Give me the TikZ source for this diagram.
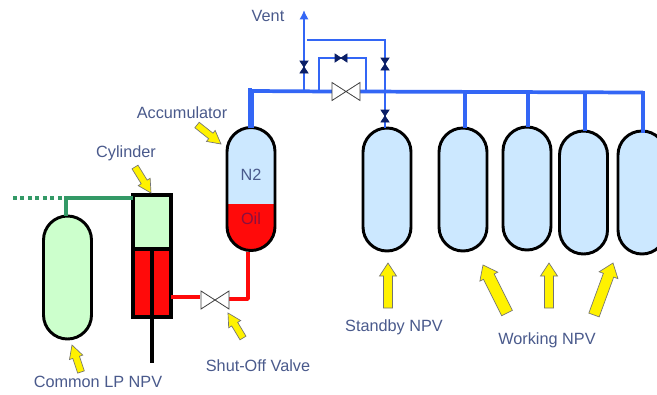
\documentclass[tikz,border=0pt]{standalone}
\usepackage{fontspec}
\setmainfont{Liberation Sans}
\usetikzlibrary{calc,arrows.meta}
\definecolor{lblue}{HTML}{CCE8FF}
\definecolor{lgreen}{HTML}{CCFFCC}
\definecolor{pblue}{HTML}{3366F5}
\definecolor{pgreen}{HTML}{339966}
\definecolor{pred}{HTML}{FF0A0A}
\definecolor{navy}{HTML}{0B1F66}
\definecolor{lab}{HTML}{4A5A8C}
\definecolor{oillab}{HTML}{8A1040}
\newlength{\px}\setlength{\px}{0.75pt}
\tikzset{
  x=0.75pt,y=-0.75pt,
  vessel/.style={draw=black,line width=2.2pt,rounded corners=18pt,minimum width=48\px,minimum height=123\px,inner sep=0pt,outer sep=0pt},
  box/.style={draw=black,line width=2.4pt,inner sep=0pt,outer sep=0pt},
  lbl/.style={text=lab,font=\fontsize{12.2}{14}\selectfont,inner sep=0pt},
  pipe/.style={pblue,line width=2.8pt},
  pipethin/.style={pblue,line width=1.7pt},
  bigv/.style={minimum width=28\px,minimum height=18\px,inner sep=0pt,outer sep=0pt},
  smallv/.style={minimum width=12\px,minimum height=8\px,inner sep=0pt,outer sep=0pt},
  smallvv/.style={minimum width=8\px,minimum height=12\px,inner sep=0pt,outer sep=0pt},
  valveline/.style={draw=black!75,fill=white,line width=0.6pt},
  valvefill/.style={draw=navy,fill=navy,line width=0.6pt},
  yarrow/.style={fill=yellow,draw=black!55,line width=0.5pt,line join=miter},
}
% block arrow: tail x y, tip x y, shaft half-width, head half-width (px)
\newcommand{\blockarrow}[6]{%
  \draw[yarrow] let \p1=($(#3,#4)-(#1,#2)$), \n1={atan2(\y1,\x1)} in
    (#3,#4)
    -- ($(#3,#4)+(\n1+180:13\px)+(\n1+90:#6\px)$)
    -- ($(#3,#4)+(\n1+180:13\px)+(\n1+90:#5\px)$)
    -- ($(#1,#2)+(\n1+90:#5\px)$)
    -- ($(#1,#2)+(\n1-90:#5\px)$)
    -- ($(#3,#4)+(\n1+180:13\px)+(\n1-90:#5\px)$)
    -- ($(#3,#4)+(\n1+180:13\px)+(\n1-90:#6\px)$) -- cycle;%
}
\newcommand{\bowtieH}[2]{\draw[#2] (#1.south west)--(#1.north east)--(#1.south east)--(#1.north west)--cycle;}
\newcommand{\bowtieV}[2]{\draw[#2] (#1.north west)--(#1.north east)--(#1.south west)--(#1.south east)--cycle;}
\begin{document}
\begin{tikzpicture}
\clip (0,0) rectangle (657,394);
\fill[white] (0,0) rectangle (657,394);

% vessels
\node[vessel,fill=lgreen] (lp) at (67.5,277.5) {};
\node[vessel,fill=lblue,path picture={\fill[pred,sharp corners] ([yshift=47\px]path picture bounding box.south west) rectangle (path picture bounding box.south east);}] (acc) at (251,189) {};
\node[vessel,fill=lblue] (sb) at (387,189.5) {};
\node[vessel,fill=lblue] (w1) at (463,189.5) {};
\node[vessel,fill=lblue] (w2) at (527,188.5) {};
\node[vessel,fill=lblue] (w3) at (583.5,192.5) {};
\node[vessel,fill=lblue] (w4) at (642,192.5) {};

% cylinder
\node[box,fill=lgreen,minimum width=38\px,minimum height=55\px] (cyltop) at (152,222.5) {};
\node[box,fill=pred,minimum width=38\px,minimum height=68\px] (cylbot) at (152,283) {};
\coordinate (rodend) at (152,363);
\draw[black,line width=2.4pt] (cylbot.north) -- (rodend);

% coordinates
\coordinate (gL) at (13,198);
\coordinate (gJ) at (66,198);
\coordinate (hL) at (252,91);
\coordinate (hT) at (304,91);
\coordinate (hB) at (319,91);
\coordinate (hR) at (366,92.5);
\coordinate (hE) at (643,92.5);
\coordinate (ventTop) at (304,10);
\coordinate (v2T) at (307,40);
\coordinate (v2R) at (385,40);
\coordinate (bT1) at (319,58);
\coordinate (bT2) at (366,58);
\coordinate (redA) at (171,297);
\coordinate (redB) at (200,297);
\coordinate (redC) at (229,299);
\coordinate (redD) at (248,299);
\coordinate (redE) at (248,252);
\coordinate (b1) at (465,92.5);
\coordinate (b2) at (528,92.5);
\coordinate (b3) at (585,92.5);

% valves (named)
\node[bigv] (vmain) at (346,91.5) {};
\node[bigv] (vshut) at (215,300) {};
\node[smallvv] (vvent) at (304,67) {};
\node[smallvv] (vtop) at (385,64) {};
\node[smallvv] (vsb) at (385,116) {};
\node[smallv] (vby) at (341,58) {};

% green pipe
\draw[pgreen,line width=2.6pt] (lp.north -| gJ) -- (gJ) -- (cyltop.west |- gJ);
\draw[pgreen,line width=2.6pt,dash pattern=on 3pt off 2.6pt] (gL) -- (gJ);

% red pipe
\draw[pred,line width=2.6pt] (redA) -- (redB);
\draw[pred,line width=2.6pt,line join=round] (redC) -- (redD) -- (redE);

% blue pipes
\draw[pipe,line width=3.8pt] (acc.north) -- (acc.north |- hL) -- (hL);
\draw[pipe] (hL) -- (vmain.west);
\draw[pipe] (vmain.east) -- (hE);
\draw[pipe,line cap=rect] (hE) -- (w4.north -| hE);
\draw[pipe] (b1) -- (w1.north -| b1);
\draw[pipe] (b2) -- (w2.north -| b2);
\draw[pipe] (b3) -- (w3.north -| b3);
\draw[pipethin,-{Latex[length=7pt,width=7pt]}] (hT) -- (ventTop);
\draw[pipethin] (hB) -- (bT1) -- (bT2) -- (hR);
\draw[pipethin] (v2T) -- (v2R) -- (sb.north -| v2R);

% valves drawn
\bowtieH{vmain}{valveline}
\bowtieH{vshut}{valveline}
\bowtieV{vvent}{valvefill}
\bowtieV{vtop}{valvefill}
\bowtieV{vsb}{valvefill}
\bowtieH{vby}{valvefill}

% yellow arrows
\blockarrow{197}{125}{221}{144}{3.5}{7}
\blockarrow{135}{167}{151}{193}{3.5}{7}
\blockarrow{81}{372}{72}{345}{3.5}{7}
\blockarrow{243}{338}{228}{313}{3.5}{7}
\blockarrow{388}{308}{388}{263}{4.5}{8.5}
\blockarrow{507}{313}{483}{265}{6}{10}
\blockarrow{549}{308}{549}{263}{4.5}{8.5}
\blockarrow{594}{315}{613}{263}{5.5}{10}

% labels
\node[lbl] (tvent) at (268,16) {Vent};
\node[lbl] (tacc) at (182,113) {Accumulator};
\node[lbl] (tcyl) at (126,153) {Cylinder};
\node[lbl] (tn2) at (251,175) {N2};
\node[lbl,text=oillab] (toil) at (251,219) {Oil};
\node[lbl] (tlp) at (98,382) {Common LP NPV};
\node[lbl] (tshut) at (258,366) {Shut-Off Valve};
\node[lbl] (tsb) at (394,327) {Standby NPV};
\node[lbl] (twk) at (547,340) {Working NPV};
\end{tikzpicture}
\end{document}
